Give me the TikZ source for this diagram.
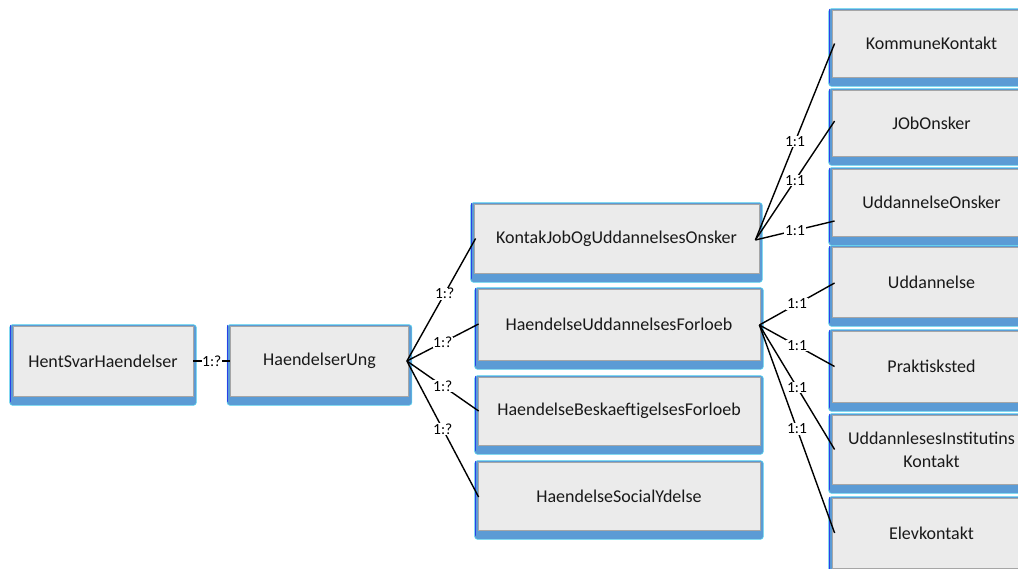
\documentclass[tikz,border=0pt]{standalone}
\usepackage{fontspec}
\setmainfont{Carlito}
\usetikzlibrary{backgrounds}
\definecolor{boxfill}{HTML}{EBEBEB}
\definecolor{boxline}{HTML}{A6A6A6}
\definecolor{band}{HTML}{5B9BD5}
\definecolor{glow}{HTML}{5FD8F0}
\definecolor{edge}{HTML}{2A3FE8}
\tikzset{
  ebox/.style={draw=boxline, line width=0.8pt, fill=boxfill, inner sep=2pt,
    font=\fontsize{18}{23}\selectfont, align=center, text=black!90},
  lbox/.style={ebox, minimum width=180pt, minimum height=70pt},
  mbox/.style={ebox, minimum width=284pt, minimum height=69pt},
  rbox/.style={ebox, minimum width=199pt, minimum height=69pt},
  conn/.style={line width=1.4pt, black},
  lab/.style={fill=white, inner sep=0.6pt, font=\fontsize{15.5}{17}\selectfont},
}
\newcommand\bandunder[1]{%
  \fill[band, draw=glow, line width=0.6pt, rounded corners=3pt]
    ([xshift=-3pt,yshift=1pt]#1.north west) rectangle ([xshift=3pt,yshift=-9pt]#1.south east);
  \draw[edge, line width=1.3pt, line cap=round]
    ([xshift=-2.4pt,yshift=0pt]#1.north west) -- ([xshift=-2.4pt,yshift=-5pt]#1.south west);
}
\begin{document}
\begin{tikzpicture}[x=1pt, y=-1pt]
\path[use as bounding box, clip] (0,0) rectangle (1018,569);

% left column
\node[lbox] (hs) at (103,361) {HentSvarHaendelser};
\node[lbox, minimum width=178pt] (hu) at (319.5,361) {HaendelserUng};

% middle column
\node[mbox, minimum width=285pt] (kj) at (616.5,238.5) {KontakJobOgUddannelsesOnsker};
\node[mbox, minimum width=282pt, minimum height=71pt] (huf) at (619,324.5) {HaendelseUddannelsesForloeb};
\node[mbox, minimum width=282pt, minimum height=68pt] (hbf) at (619,411) {HaendelseBeskaeftigelsesForloeb};
\node[mbox, minimum width=282pt, minimum height=68pt] (hsy) at (619,496) {HaendelseSocialYdelse};

% right column
\node[rbox, minimum height=67pt] (kk) at (931.5,43.5) {KommuneKontakt};
\node[rbox, minimum height=66pt] (jo) at (931.5,123) {JObOnsker};
\node[rbox, minimum height=67pt] (uo) at (931.5,202.5) {UddannelseOnsker};
\node[rbox, minimum height=70pt] (ud) at (931.5,282) {Uddannelse};
\node[rbox, minimum height=71pt] (pr) at (931.5,366.5) {Praktisksted};
\node[rbox, minimum height=69pt] (ui) at (931.5,449.5) {UddannlesesInstitutins\\Kontakt};
\node[rbox, minimum height=70pt] (el) at (931.5,533) {Elevkontakt};

\begin{scope}[on background layer]
  \bandunder{hs}\bandunder{hu}
  \bandunder{kj}\bandunder{huf}\bandunder{hbf}\bandunder{hsy}
  \bandunder{kk}\bandunder{jo}\bandunder{uo}\bandunder{ud}\bandunder{pr}\bandunder{ui}\bandunder{el}
\end{scope}

% connectors
\draw[conn] (hs.east) -- node[lab]{1:?} (hu.west);

\coordinate (hux) at ([xshift=-2pt]hu.east);
\draw[conn] (hux) -- node[lab, pos=0.55]{1:?} ([xshift=2pt]kj.west);
\draw[conn] (hux) -- node[lab]{1:?} ([xshift=1pt,yshift=0.5pt]huf.west);
\draw[conn] (hux) -- node[lab]{1:?} ([xshift=1pt]hbf.west);
\draw[conn] (hux) -- node[lab]{1:?} ([xshift=1pt,yshift=-1pt]hsy.west);

\coordinate (kjx) at ([xshift=-4pt,yshift=-1.5pt]kj.east);
\draw[conn] (kjx) -- node[lab]{1:1} ([xshift=3pt]kk.west);
\draw[conn] (kjx) -- node[lab]{1:1} ([xshift=3pt,yshift=2pt]jo.west);
\draw[conn] (kjx) -- node[lab]{1:1} ([xshift=3pt,yshift=-18.5pt]uo.west);

\coordinate (hufx) at ([xshift=-1pt,yshift=-0.5pt]huf.east);
\draw[conn] (hufx) -- node[lab]{1:1} ([xshift=3pt,yshift=-1pt]ud.west);
\draw[conn] (hufx) -- node[lab]{1:1} ([xshift=3pt]pr.west);
\draw[conn] (hufx) -- node[lab]{1:1} ([xshift=3pt]ui.west);
\draw[conn] (hufx) -- node[lab]{1:1} ([xshift=3pt]el.west);
\end{tikzpicture}
\end{document}
